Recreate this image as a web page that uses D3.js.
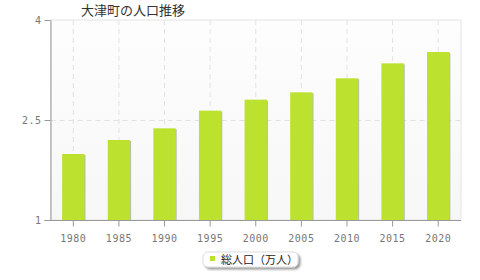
<!DOCTYPE html>
<html><head><meta charset="utf-8">
<script src="https://cdn.jsdelivr.net/npm/d3@7"></script>
<style>body{margin:0;background:#fff}svg{display:block}</style>
</head><body>
<script>
const title = "大津町の人口推移";
const categories = ["1980","1985","1990","1995","2000","2005","2010","2015","2020"];
const values = [1.99, 2.2, 2.375, 2.64, 2.805, 2.915, 3.125, 3.35, 3.52];
const yTicks = [1, 2.5, 4];
const yTickLabels = ["1", "2.5", "4"];
const seriesName = "総人口（万人）";

const W = 480, H = 280;
const m = {left: 50.5, right: 19, top: 20, bottom: 60};
const svg = d3.select("body").append("svg").attr("width", W).attr("height", H);

const defs = svg.append("defs");
const g1 = defs.append("linearGradient").attr("id","bg").attr("x1",0).attr("y1",0).attr("x2",0).attr("y2",1);
g1.append("stop").attr("offset","0").attr("stop-color","#fdfdfd");
g1.append("stop").attr("offset","1").attr("stop-color","#f7f7f7");
const f = defs.append("filter").attr("id","sh").attr("x","-10%").attr("y","-20%").attr("width","130%").attr("height","160%");
f.append("feDropShadow").attr("dx",2).attr("dy",2).attr("stdDeviation",1).attr("flood-color","#555").attr("flood-opacity",0.6);

const x = d3.scaleBand().domain(categories).range([m.left, W - m.right]).paddingInner(0).paddingOuter(0);
const y = d3.scaleLinear().domain([1, 4]).range([H - m.bottom, m.top]);

// plot background
svg.append("rect").attr("x", m.left).attr("y", m.top)
  .attr("width", W - m.right - m.left).attr("height", H - m.bottom - m.top)
  .attr("fill", "url(#bg)").attr("stroke", "#e4e4e4");

// gridlines
svg.append("g").selectAll("line").data(categories).join("line")
  .attr("x1", d => x(d) + x.bandwidth()/2).attr("x2", d => x(d) + x.bandwidth()/2)
  .attr("y1", m.top).attr("y2", H - m.bottom)
  .attr("stroke", "#e2e2e2").attr("stroke-dasharray", "5,4");
svg.append("g").selectAll("line").data(yTicks.slice(1, -1)).join("line")
  .attr("x1", m.left).attr("x2", W - m.right)
  .attr("y1", d => Math.round(y(d)) + 0.5).attr("y2", d => Math.round(y(d)) + 0.5)
  .attr("stroke", "#e2e2e2").attr("stroke-dasharray", "5,4");

// bars
const bw = x.bandwidth() * 0.49;
const bars = svg.append("g").selectAll("g").data(values).join("g");
bars.append("rect")
  .attr("x", (d,i) => x(categories[i]) + (x.bandwidth() - bw)/2 + 1)
  .attr("y", d => y(d) + 1)
  .attr("width", bw).attr("height", d => y(1) - y(d) - 1)
  .attr("fill", "#9aa88a").attr("opacity", 0.7);
bars.append("rect")
  .attr("x", (d,i) => x(categories[i]) + (x.bandwidth() - bw)/2)
  .attr("y", d => y(d))
  .attr("width", bw).attr("height", d => y(1) - y(d))
  .attr("fill", "#bce12f");

// axes
const yAxis = svg.append("g").attr("transform", `translate(${m.left},0)`)
  .call(d3.axisLeft(y).tickValues(yTicks).tickFormat((d,i) => yTickLabels[i]).tickSize(6).tickSizeOuter(0));
const xAxis = svg.append("g").attr("transform", `translate(0,${H - m.bottom + 0.5})`)
  .call(d3.axisBottom(x).tickSize(6).tickSizeOuter(0));
[yAxis, xAxis].forEach(a => {
  a.select(".domain").attr("stroke", "#999");
  a.selectAll(".tick line").attr("stroke", "#999");
  a.selectAll("text").attr("fill", "#777").attr("font-family", "'DejaVu Sans Mono', monospace")
    .attr("font-size", "10px").attr("letter-spacing", "0.5px");
});
xAxis.select(".domain").attr("d", `M${m.left - 6},0H${W - m.right}`);
xAxis.selectAll("text").attr("dy", "1.2em");
yAxis.selectAll("text").attr("x", -9);

// title
svg.append("text").attr("x", 81).attr("y", 15).text(title)
  .attr("font-family", "'Noto Sans CJK JP', sans-serif").attr("font-size", "13px").attr("fill", "#333");

// legend
const lg = svg.append("g");
lg.append("rect").attr("x", 203).attr("y", 252).attr("width", 95).attr("height", 15).attr("rx", 5)
  .attr("fill", "#fff").attr("stroke", "#ddd").attr("filter", "url(#sh)");
lg.append("rect").attr("x", 210).attr("y", 256).attr("width", 5).attr("height", 5).attr("fill", "#bce12f");
lg.append("text").attr("x", 221).attr("y", 263.5).text(seriesName)
  .attr("font-family", "'Noto Sans CJK JP', sans-serif").attr("font-size", "11px").attr("fill", "#222");
</script>
</body></html>
